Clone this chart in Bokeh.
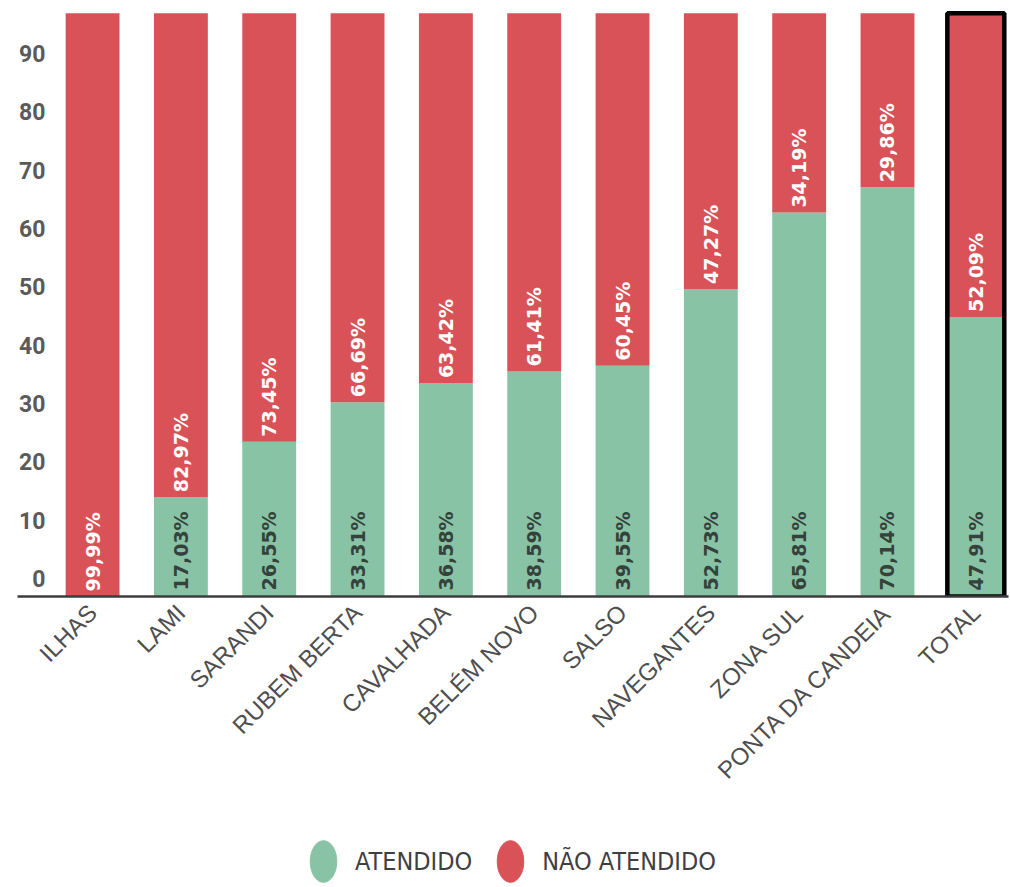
from math import pi
from bokeh.plotting import figure
from bokeh.layouts import column
from bokeh.models import (ColumnDataSource, Range1d, FixedTicker, Legend, LegendItem,
                          CDSView, IndexFilter)
from bokeh.core.properties import value
from bokeh.embed import file_html
from bokeh.resources import INLINE

# ---- data ----
categories = ["ILHAS", "LAMI", "SARANDI", "RUBEM BERTA", "CAVALHADA", "BELÉM NOVO",
              "SALSO", "NAVEGANTES", "ZONA SUL", "PONTA DA CANDEIA", "TOTAL"]
atendido = [0.01, 17.03, 26.55, 33.31, 36.58, 38.59, 39.55, 52.73, 65.81, 70.14, 47.91]
nao_atendido = [99.99, 82.97, 73.45, 66.69, 63.42, 61.41, 60.45, 47.27, 34.19, 29.86, 52.09]
y_ticks = [0, 10, 20, 30, 40, 50, 60, 70, 80, 90]
series_names = ["ATENDIDO", "NÃO ATENDIDO"]

GREEN = "#89C3A5"
RED = "#D95257"

def fmt(v):
    return f"{v:.2f}".replace(".", ",") + "%"

n = len(categories)
idx = list(range(n))
src = ColumnDataSource(dict(
    x=idx,
    cat=categories,
    at=atendido,
    na=nao_atendido,
    zero=[0] * n,
    at_lbl=[fmt(v) if v >= 1 else "" for v in atendido],
    na_lbl=[fmt(v) for v in nao_atendido],
))

p = figure(width=1010, height=830, output_backend="svg", toolbar_location=None,
           x_range=Range1d(-0.85, 10.37), y_range=Range1d(0, 102),
           y_axis_location=None, min_border_left=17, min_border_right=2,
           min_border_top=1, min_border_bottom=234)
p.outline_line_color = None
p.xgrid.visible = False
p.ygrid.visible = False
p.background_fill_color = "white"
p.border_fill_color = "white"

bars = p.vbar_stack(["at", "na"], x="x", width=0.61, source=src,
                    color=[GREEN, RED], line_color=None)

# highlight TOTAL
tot = categories.index("TOTAL")
p.vbar(x=[tot], top=[100], bottom=[0], width=0.645, fill_color=None,
       line_color="black", line_width=4.5)

# in-bar labels
p.text(x="x", y="zero", text="at_lbl", source=src, angle=pi / 2,
       text_align="left", text_baseline="middle", y_offset=-6,
       text_font=value("DejaVu Sans"), text_font_style="bold",
       text_font_size="19px", text_color="#34423B")
p.text(x="x", y="at", text="na_lbl", source=src, angle=pi / 2,
       text_align="left", text_baseline="middle", y_offset=-5,
       text_font=value("DejaVu Sans"), text_font_style="bold",
       text_font_size="19px", text_color="white")

# y tick labels (drawn above their gridline positions, as in the original)
p.text(x=[p.x_range.start] * len(y_ticks), y=y_ticks, text=[str(t) for t in y_ticks],
       x_offset=28, y_offset=-18, text_align="right", text_baseline="middle",
       text_font=value("Roboto"), text_font_style="bold", text_font_size="23px",
       text_color="#5A5A5A")

# x axis
xa = p.xaxis[0]
xa.ticker = FixedTicker(ticks=idx)
xa.major_label_overrides = {i: c for i, c in zip(idx, categories)}
xa.major_label_orientation = pi / 4
xa.major_label_text_font = "Liberation Sans"
xa.major_label_text_font_size = "24px"
xa.major_label_text_color = "#4E4E4E"
xa.major_label_standoff = 6
xa.major_tick_line_color = None
xa.minor_tick_line_color = None
xa.axis_line_color = "#3C3C3C"
xa.axis_line_width = 2.5

# ---- legend strip ----
lf = figure(width=1010, height=57, output_backend="svg", toolbar_location=None,
            x_range=Range1d(-20, -19), y_range=Range1d(-20, -19),
            x_axis_location=None, y_axis_location=None,
            min_border=0, min_border_left=0, min_border_right=0,
            min_border_top=0, min_border_bottom=0)
lf.outline_line_color = None
lf.xgrid.visible = False
lf.ygrid.visible = False

# screen-sized ellipses used as legend glyphs (their data lies outside this strip's ranges)
lsrc = ColumnDataSource(dict(x=idx, y=[0] * n, w=[30] * n, h=[47] * n))
e1 = lf.ellipse(x="x", y="y", width="w", height="h", width_units="screen",
                height_units="screen", source=lsrc,
                view=CDSView(filter=IndexFilter([0])), color=GREEN)
e2 = lf.ellipse(x="x", y="y", width="w", height="h", width_units="screen",
                height_units="screen", source=lsrc,
                view=CDSView(filter=IndexFilter([0])), color=RED)

legend = Legend(items=[LegendItem(label=series_names[0], renderers=[e1]),
                       LegendItem(label=series_names[1], renderers=[e2])],
                orientation="horizontal", location=(280, 0),
                glyph_width=52, glyph_height=52, label_standoff=6, spacing=12,
                padding=0, margin=0, border_line_color=None,
                background_fill_alpha=0,
                label_text_font="Liberation Sans Narrow, DejaVu Sans Condensed, Roboto",
                label_text_font_size="25px", label_text_color="#3F3F3F",
                label_text_baseline="middle")
lf.add_layout(legend, "center")

layout = column(p, lf, spacing=0)
open("out.html", "w").write(file_html(layout, INLINE))
